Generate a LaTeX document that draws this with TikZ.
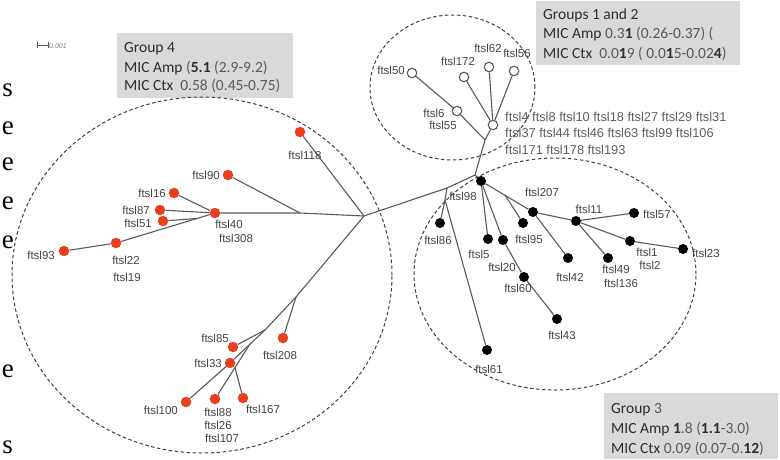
\documentclass[tikz,border=0pt]{standalone}
\usepackage{fontspec}
\setmainfont{Liberation Sans}
\newfontfamily\boxfont{Carlito}
\newfontfamily\serfont{Liberation Serif}
\definecolor{redn}{HTML}{E8401C}
\definecolor{edgec}{HTML}{5A5A5A}
\definecolor{lblc}{HTML}{454545}
\definecolor{listc}{HTML}{5E5E5E}
\definecolor{boxgray}{HTML}{D9D9D9}
\definecolor{headc}{HTML}{2E2E2E}
\definecolor{numc}{HTML}{5A5A5A}
\begin{document}
\begin{tikzpicture}[x=1pt,y=-1pt,
  br/.style={draw=edgec, line width=1.1pt},
  rdot/.style={circle, fill=redn, inner sep=0pt, minimum size=10.5pt},
  bdot/.style={circle, fill=black, inner sep=0pt, minimum size=10pt},
  odot/.style={circle, draw=edgec, fill=white, line width=1.1pt, inner sep=0pt, minimum size=9.5pt},
  lab/.style={font=\fontsize{11.5}{12}\selectfont, text=lblc, inner sep=0pt},
  lst/.style={font=\fontsize{12.8}{13}\selectfont, text=listc, inner sep=0pt, anchor=west},
  grp/.style={draw=black!75, dash pattern=on 3.5pt off 2.5pt, line width=1pt},
  gbox/.style={fill=boxgray, draw=none, inner sep=0pt, anchor=north west},
  gtxt/.style={font=\boxfont\fontsize{15.5}{19}\selectfont, text=headc, inner sep=0pt, anchor=base west},
  frag/.style={font=\serfont\fontsize{27}{27}\selectfont, inner sep=0pt, anchor=east, text=black}
]
\useasboundingbox (0,0) rectangle (780,459);
\fill[white] (0,0) rectangle (780,459);

% left-edge text fragments
\node[frag] (fr1) at (13,90) {s};
\node[frag] (fr2) at (14,128) {e};
\node[frag] (fr3) at (14,164) {e};
\node[frag] (fr4) at (14,203) {e};
\node[frag] (fr5) at (14,242) {e};
\node[frag] (fr6) at (14,371) {e};
\node[frag] (fr7) at (13,447) {s};

% scale bar
\coordinate (sb1) at (37,45);
\coordinate (sb2) at (48,45);
\draw[edgec, line width=0.8pt] (sb1) -- (sb2);
\draw[edgec, line width=0.8pt] ([yshift=-3pt]sb1) -- ([yshift=3pt]sb1);
\draw[edgec, line width=0.8pt] ([yshift=-3pt]sb2) -- ([yshift=3pt]sb2);
\node[font=\itshape\fontsize{7}{7}\selectfont, text=gray, inner sep=0pt, anchor=west] (sbt) at (49,46.5) {0.001};

% group boxes
\node[gbox, minimum width=176pt, minimum height=65pt] (b4) at (117,33) {};
\node[gtxt] (b4a) at (124,52) {Group 4};
\node[gtxt] (b4b) at (124,72) {MIC Amp \textcolor{numc}{(}\textbf{5.1} \textcolor{numc}{(2.9-9.2)}};
\node[gtxt] (b4c) at (124,90) {MIC Ctx\ \ \textcolor{numc}{0.58 (0.45-0.75)}};

\node[gbox, minimum width=204pt, minimum height=64pt] (b12) at (536,1) {};
\node[gtxt] (b12a) at (543,19.5) {Groups 1 and 2};
\node[gtxt] (b12b) at (543,38.5) {MIC Amp \textcolor{numc}{0.3}\textbf{1} \textcolor{numc}{(0.26-0.37) (}};
\node[gtxt] (b12c) at (543,58) {MIC Ctx\ \ \textcolor{numc}{0.0}\textbf{1}\textcolor{numc}{9 ( 0.0}\textbf{1}\textcolor{numc}{5-0.02}\textbf{4}\textcolor{numc}{)}};

\node[gbox, minimum width=174pt, minimum height=66pt] (b3) at (604,393) {};
\node[gtxt] (b3a) at (611,413) {Group \textcolor{numc}{3}};
\node[gtxt] (b3b) at (611,433) {MIC Amp \textbf{1}\textcolor{numc}{.8 (}\textbf{1.1}\textcolor{numc}{-3.0)}};
\node[gtxt] (b3c) at (611,453) {MIC Ctx \textcolor{numc}{0.09 (0.07-0.}\textbf{12}\textcolor{numc}{)}};

% dashed group outlines
\draw[grp] (202,275) ellipse [x radius=190pt, y radius=178pt];
\draw[grp] (452.5,87.5) ellipse [x radius=82.5pt, y radius=72.5pt];
\draw[grp] (555,274) ellipse [x radius=141pt, y radius=116pt];

% ---------- junctions ----------
\coordinate (J0) at (364,216);
\coordinate (Jl) at (300,213);
\coordinate (J51) at (197,218.5);
\coordinate (J4a) at (296,297);
\coordinate (J4b) at (265,330);
\coordinate (J4c) at (250,344);
\coordinate (J4d) at (235,367.6);
\coordinate (J98) at (447,188);
\coordinate (J98b) at (445,200);
\coordinate (J1) at (475,175);
\coordinate (J95) at (505,195);
\coordinate (S1) at (485,140);

% ---------- group 4 (red) ----------
\node[rdot] (f40) at (215,213) {};
\node[rdot] (f90) at (228,175) {};
\node[rdot] (f118) at (300,132) {};
\node[rdot] (f16) at (174,193) {};
\node[rdot] (f87) at (160,210) {};
\node[rdot] (f51) at (163,221) {};
\node[rdot] (f22) at (116,243) {};
\node[rdot] (f93) at (64,251) {};
\node[rdot] (f208) at (283,338) {};
\node[rdot] (f85) at (233,347) {};
\node[rdot] (f33) at (230,363) {};
\node[rdot] (f100) at (186,402) {};
\node[rdot] (f88) at (215,399) {};
\node[rdot] (f167) at (243,398) {};

% ---------- group 3 (black) ----------
\node[bdot] (B0) at (481,181) {};
\node[bdot] (f86) at (440,223) {};
\node[bdot] (f61) at (487,350) {};
\node[bdot] (f5) at (488,239) {};
\node[bdot] (f20) at (503,240) {};
\node[bdot] (f60) at (524,277) {};
\node[bdot] (f43) at (557,319) {};
\node[bdot] (f95) at (523,223) {};
\node[bdot] (f207) at (533,212) {};
\node[bdot] (f42) at (568,258) {};
\node[bdot] (f11) at (576,221) {};
\node[bdot] (f57) at (634,213) {};
\node[bdot] (f49) at (608,258) {};
\node[bdot] (f1) at (630,241) {};
\node[bdot] (f23) at (683,249) {};

% ---------- groups 1 and 2 (open) ----------
\node[odot] (G) at (493,125) {};
\node[odot] (f6) at (457,111) {};
\node[odot] (f50) at (412,73) {};
\node[odot] (f172) at (464,77) {};
\node[odot] (f62) at (489,67) {};
\node[odot] (f56) at (514,71) {};

% ---------- branches ----------
\draw[br] (J0) -- (Jl) -- (f40);
\draw[br] (f90) -- (Jl);
\draw[br] (f118) -- (J0);
\draw[br] (f16) -- (f40);
\draw[br] (f87) -- (f40);
\draw[br] (f40) -- (f22);
\draw[br] (f51) -- (J51);
\draw[br] (f22) -- (f93);
\draw[br] (J0) -- (J4a) -- (J4b) -- (f33);
\draw[br] (f33) -- (f100);
\draw[br] (J4a) -- (f208);
\draw[br] (J4b) -- (f85);
\draw[br] (J4c) -- (f88);
\draw[br] (J4d) -- (f167);

\draw[br] (J0) -- (J98) -- (J1);
\draw[br] (J98) -- (J98b) -- (f86);
\draw[br] (J98b) -- (f61);
\draw[br] (J1) -- (B0);
\draw[br] (B0) -- (f5);
\draw[br] (B0) -- (f20);
\draw[br] (f20) -- (f60);
\draw[br] (f60) -- (f43);
\draw[br] (B0) -- (f207);
\draw[br] (J95) -- (f95);
\draw[br] (f207) -- (f11);
\draw[br] (f207) -- (f42);
\draw[br] (f11) -- (f57);
\draw[br] (f11) -- (f49);
\draw[br] (f11) -- (f1);
\draw[br] (f1) -- (f23);

\draw[br] (J1) -- (S1) -- (G);
\draw[br] (S1) -- (f6);
\draw[br] (f6) -- (f50);
\draw[br] (G) -- (f172);
\draw[br] (G) -- (f62);
\draw[br] (G) -- (f56);

% ---------- labels group 4 ----------
\node[lab, anchor=east] (l90) at (220,175) {ftsl90};
\node[lab, anchor=east] (l16) at (166,193) {ftsl16};
\node[lab, anchor=east] (l87) at (150,210) {ftsl87};
\node[lab, anchor=east] (l51) at (152,223) {ftsl51};
\node[lab, anchor=east] (l93) at (55,255) {ftsl93};
\node[lab] (l22) at (126,260) {ftsl22};
\node[lab] (l19) at (127,277) {ftsl19};
\node[lab] (l40) at (229,224) {ftsl40};
\node[lab] (l308) at (236,238) {ftsl308};
\node[lab] (l118) at (305,155) {ftsl118};
\node[lab, anchor=east] (l85) at (229,338) {ftsl85};
\node[lab, anchor=east] (l33) at (222,363) {ftsl33};
\node[lab] (l208) at (280,355) {ftsl208};
\node[lab, anchor=east] (l100) at (178,410) {ftsl100};
\node[lab] (l88) at (218,412) {ftsl88};
\node[lab] (l26) at (218,425) {ftsl26};
\node[lab] (l107) at (222,438) {ftsl107};
\node[lab] (l167) at (263,409) {ftsl167};

% ---------- labels group 3 ----------
\node[lab] (l98) at (463,196) {ftsl98};
\node[lab] (l86) at (438,240) {ftsl86};
\node[lab] (l5) at (479,254) {ftsl5};
\node[lab] (l20) at (502,267) {ftsl20};
\node[lab] (l60) at (518,288) {ftsl60};
\node[lab] (l43) at (562,335) {ftsl43};
\node[lab] (l61) at (489,369) {ftsl61};
\node[lab] (l95) at (529,239) {ftsl95};
\node[lab] (l207) at (542,192) {ftsl207};
\node[lab] (l42) at (570,277) {ftsl42};
\node[lab] (l11) at (589,209) {ftsl11};
\node[lab, anchor=west] (l57) at (643,214) {ftsl57};
\node[lab] (l49) at (616,269) {ftsl49};
\node[lab] (l136) at (621,283) {ftsl136};
\node[lab] (l1) at (647,252) {ftsl1};
\node[lab] (l2) at (650,265) {ftsl2};
\node[lab, anchor=west] (l23) at (692,253) {ftsl23};

% ---------- labels groups 1 and 2 ----------
\node[lab, anchor=east] (l50) at (405,70) {ftsl50};
\node[lab] (l172) at (458,61) {ftsl172};
\node[lab] (l62) at (488,48) {ftsl62};
\node[lab] (l56) at (517,53) {ftsl56};
\node[lab] (l6) at (434,113) {ftsl6};
\node[lab] (l55) at (443,125) {ftsl55};
\node[lst] (lg1) at (505,117) {ftsl4 ftsl8 ftsl10 ftsl18 ftsl27 ftsl29 ftsl31};
\node[lst] (lg2) at (505,133) {ftsl37 ftsl44 ftsl46 ftsl63 ftsl99 ftsl106};
\node[lst] (lg3) at (505,150) {ftsl171 ftsl178 ftsl193};
\end{tikzpicture}
\end{document}
